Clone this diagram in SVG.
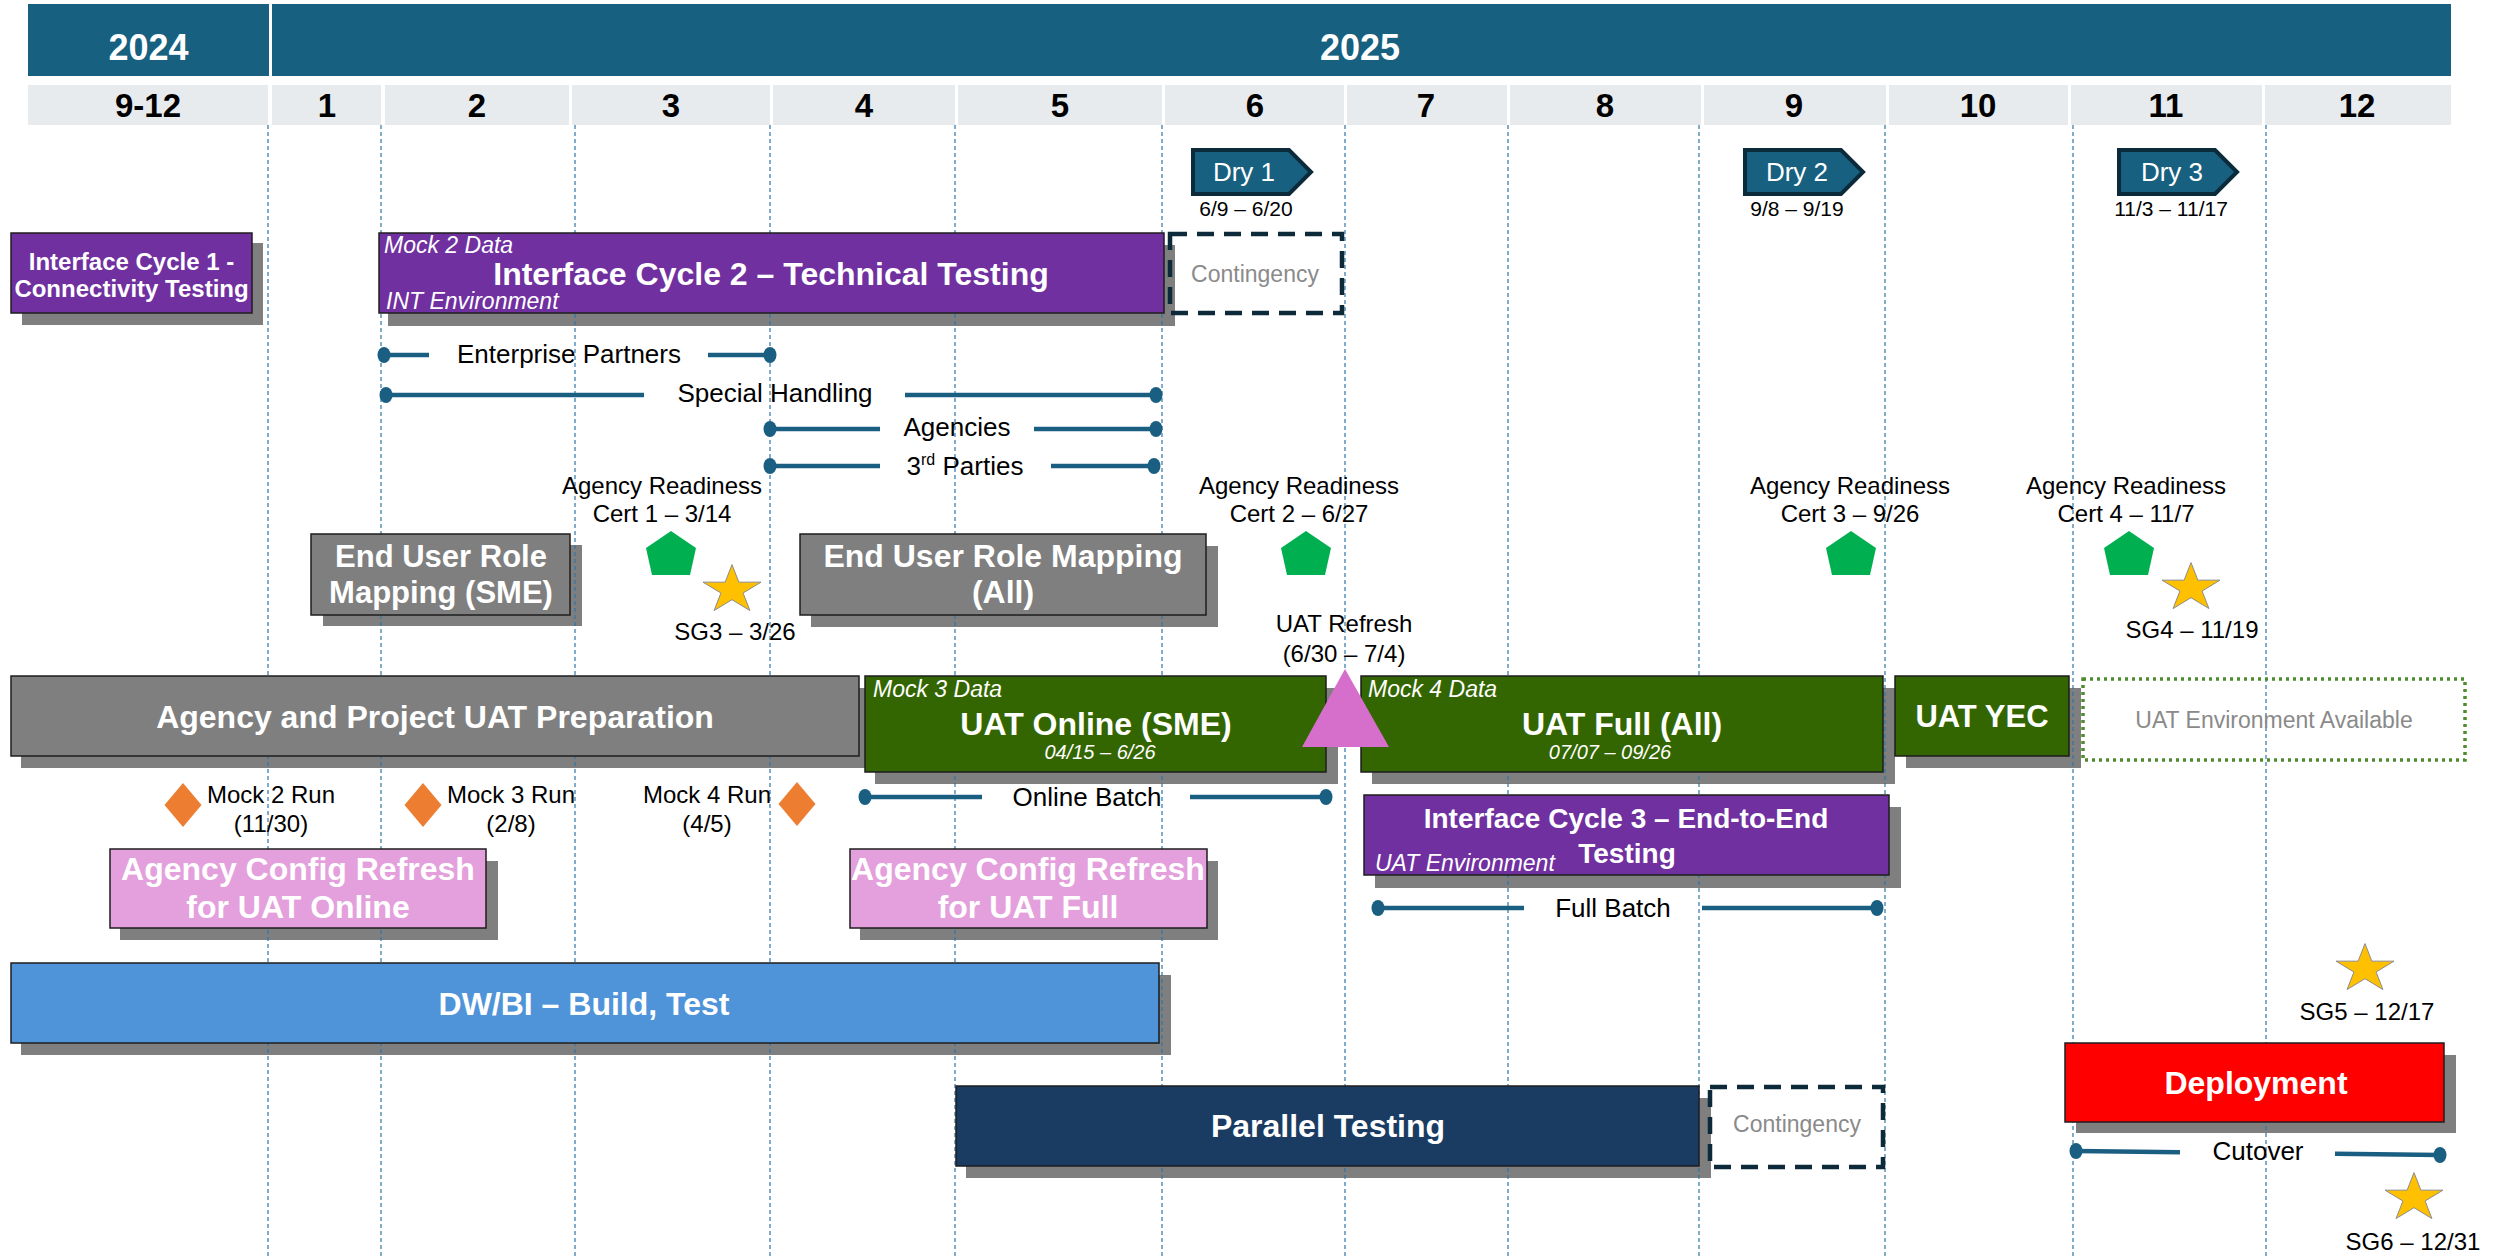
<svg xmlns="http://www.w3.org/2000/svg" width="2496" height="1256" viewBox="0 0 2496 1256">
<defs>
<style>
text{font-family:"Liberation Sans",Arial,sans-serif}
.yr{fill:#17607f}
.yt{font-size:36px;font-weight:bold;fill:#fff;text-anchor:middle}
.mo{fill:#e8ebee}
.mt{font-size:33px;font-weight:bold;fill:#000;text-anchor:middle}
.grid{stroke:#2f75a8;stroke-width:1.2;stroke-dasharray:4 3;fill:none}
.sh{fill:#7f7f7f}
.bx{stroke:#1e1e1e;stroke-width:1.5}
.purple{fill:#7030a0}
.grey{fill:#7f7f7f}
.green{fill:#336600}
.pink{fill:#e4a0dc}
.blue{fill:#4f94d9}
.navy{fill:#1a3c63}
.red{fill:#ff0000}
.bt{font-weight:bold;fill:#fff;text-anchor:middle;font-size:32px}
.bt24{font-size:24px}
.bt28{font-size:28px}
.bt31{font-size:31px}
.it{font-style:italic;fill:#fff;font-size:23px}
.itd{font-style:italic;fill:#fff;font-size:20px;text-anchor:middle}
.lbl{font-size:24px;fill:#000;text-anchor:middle}
.cl{font-size:26px;fill:#000;text-anchor:middle}
.dry{fill:#17607f;stroke:#0b2a3a;stroke-width:4}
.dt{font-size:26px;fill:#fff;text-anchor:middle}
.dd{font-size:21px;fill:#000;text-anchor:middle}
.cont{fill:none;stroke:#0c2a3a;stroke-width:4.5;stroke-dasharray:17 10}
.ct{font-size:23px;fill:#8a8a8a;text-anchor:middle}
.bar{stroke:#1a5f82;stroke-width:4.5;fill:none}
.dot{fill:#1a5f82}
.pent{fill:#00b050}
.star{fill:#ffc000;stroke:#8c8c8c;stroke-width:1}
.dia{fill:#ed7d31}
</style>
<path id="star" d="M0,-25.4 L6.85,-7.85 L29,-7.85 L11.07,3 L17.93,20.55 L0,9.7 L-17.93,20.55 L-11.07,3 L-29,-7.85 L-6.85,-7.85 Z"/>
<path id="pent" d="M0,0 L25,17 L19,44 L-19,44 L-25,17 Z"/>
<path id="dia" d="M0,-22 L18.5,0 L0,22 L-18.5,0 Z"/>
<path id="dryshape" d="M0,0 H96 L118,22 L96,44 H0 Z"/>
</defs>
<rect x="0" y="0" width="2496" height="1256" fill="#fff"/>

<g id="header">
<rect class="yr" x="28" y="4" width="241" height="72"/>
<rect class="yr" x="272" y="4" width="2179" height="72"/>
<text class="yt" x="148.5" y="60">2024</text>
<text class="yt" x="1360" y="60">2025</text>
<rect class="mo" x="28" y="85" width="240" height="40"/>
<rect class="mo" x="272" y="85" width="109" height="40"/>
<rect class="mo" x="385" y="85" width="184" height="40"/>
<rect class="mo" x="572" y="85" width="198" height="40"/>
<rect class="mo" x="773" y="85" width="182" height="40"/>
<rect class="mo" x="958" y="85" width="204" height="40"/>
<rect class="mo" x="1165" y="85" width="179" height="40"/>
<rect class="mo" x="1347" y="85" width="160" height="40"/>
<rect class="mo" x="1510" y="85" width="191" height="40"/>
<rect class="mo" x="1704" y="85" width="182" height="40"/>
<rect class="mo" x="1889" y="85" width="179" height="40"/>
<rect class="mo" x="2071" y="85" width="191" height="40"/>
<rect class="mo" x="2265" y="85" width="186" height="40"/>
<text class="mt" x="148" y="117">9-12</text>
<text class="mt" x="327" y="117">1</text>
<text class="mt" x="477" y="117">2</text>
<text class="mt" x="671" y="117">3</text>
<text class="mt" x="864" y="117">4</text>
<text class="mt" x="1060" y="117">5</text>
<text class="mt" x="1255" y="117">6</text>
<text class="mt" x="1426" y="117">7</text>
<text class="mt" x="1605" y="117">8</text>
<text class="mt" x="1794" y="117">9</text>
<text class="mt" x="1978" y="117">10</text>
<text class="mt" x="2166" y="117">11</text>
<text class="mt" x="2357" y="117">12</text>
</g>

<g id="shadows">
<rect class="sh" x="22" y="243" width="241" height="82"/>
<rect class="sh" x="388" y="245" width="787" height="81"/>
<rect class="sh" x="323" y="545" width="259" height="81"/>
<rect class="sh" x="811" y="546" width="407" height="81"/>
<rect class="sh" x="21" y="688" width="848" height="80"/>
<rect class="sh" x="875" y="688" width="463" height="96"/>
<rect class="sh" x="1372" y="688" width="523" height="96"/>
<rect class="sh" x="1906" y="688" width="175" height="80"/>
<rect class="sh" x="120" y="861" width="378" height="79"/>
<rect class="sh" x="860" y="861" width="358" height="79"/>
<rect class="sh" x="1375" y="807" width="526" height="81"/>
<rect class="sh" x="21" y="975" width="1150" height="80"/>
<rect class="sh" x="966" y="1098" width="745" height="80"/>
<rect class="sh" x="2076" y="1055" width="380" height="78"/>
</g>

<g id="grid">
<line class="grid" x1="268" y1="125" x2="268" y2="1256"/>
<line class="grid" x1="381" y1="125" x2="381" y2="1256"/>
<line class="grid" x1="575" y1="125" x2="575" y2="1256"/>
<line class="grid" x1="770" y1="125" x2="770" y2="1256"/>
<line class="grid" x1="955" y1="125" x2="955" y2="1256"/>
<line class="grid" x1="1162" y1="125" x2="1162" y2="1256"/>
<line class="grid" x1="1345" y1="125" x2="1345" y2="1256"/>
<line class="grid" x1="1508" y1="125" x2="1508" y2="1256"/>
<line class="grid" x1="1699" y1="125" x2="1699" y2="1256"/>
<line class="grid" x1="1885" y1="125" x2="1885" y2="1256"/>
<line class="grid" x1="2073" y1="125" x2="2073" y2="1256"/>
<line class="grid" x1="2266" y1="125" x2="2266" y2="1256"/>
</g>

<g id="dry1">
<use href="#dryshape" class="dry" x="1193" y="150"/>
<text class="dt" x="1244" y="181">Dry 1</text>
<text class="dd" x="1246" y="216">6/9 – 6/20</text>
</g>
<g id="dry2">
<use href="#dryshape" class="dry" x="1745" y="150"/>
<text class="dt" x="1797" y="181">Dry 2</text>
<text class="dd" x="1797" y="216">9/8 – 9/19</text>
</g>
<g id="dry3">
<use href="#dryshape" class="dry" x="2119" y="150"/>
<text class="dt" x="2172" y="181">Dry 3</text>
<text class="dd" x="2171" y="216">11/3 – 11/17</text>
</g>

<g id="ic1">
<rect class="purple bx" x="11" y="233" width="241" height="80"/>
<text class="bt bt24" x="131.5" y="270">Interface Cycle 1 -</text>
<text class="bt bt24" x="131.5" y="297">Connectivity Testing</text>
</g>

<g id="ic2">
<rect class="purple bx" x="379" y="233" width="785" height="80"/>
<text class="it" x="384" y="253">Mock 2 Data</text>
<text class="bt" x="771" y="285">Interface Cycle 2 – Technical Testing</text>
<text class="it" x="386" y="309">INT Environment</text>
</g>

<g id="contingency1">
<rect class="cont" x="1170" y="234" width="172" height="79"/>
<text class="ct" x="1255" y="282">Contingency</text>
</g>

<g id="cert1">
<text class="lbl" x="662" y="494">Agency Readiness</text>
<text class="lbl" x="662" y="522">Cert 1 – 3/14</text>
<use href="#pent" class="pent" x="671" y="531"/>
</g>
<g id="cert2">
<text class="lbl" x="1299" y="494">Agency Readiness</text>
<text class="lbl" x="1299" y="522">Cert 2 – 6/27</text>
<use href="#pent" class="pent" x="1306" y="531"/>
</g>
<g id="cert3">
<text class="lbl" x="1850" y="494">Agency Readiness</text>
<text class="lbl" x="1850" y="522">Cert 3 – 9/26</text>
<use href="#pent" class="pent" x="1851" y="531"/>
</g>
<g id="cert4">
<text class="lbl" x="2126" y="494">Agency Readiness</text>
<text class="lbl" x="2126" y="522">Cert 4 – 11/7</text>
<use href="#pent" class="pent" x="2129" y="531"/>
</g>

<g id="sg3">
<use href="#star" class="star" x="732" y="590"/>
<text class="lbl" x="735" y="640">SG3 – 3/26</text>
</g>
<g id="sg4">
<use href="#star" class="star" x="2191" y="588"/>
<text class="lbl" x="2192" y="638">SG4 – 11/19</text>
</g>
<g id="sg5">
<use href="#star" class="star" x="2365" y="969"/>
<text class="lbl" x="2367" y="1020">SG5 – 12/17</text>
</g>
<g id="sg6">
<use href="#star" class="star" x="2414" y="1198"/>
<text class="lbl" x="2413" y="1250">SG6 – 12/31</text>
</g>

<g id="eurm-sme">
<rect class="grey bx" x="311" y="534" width="259" height="81"/>
<text class="bt bt31" x="441" y="567">End User Role</text>
<text class="bt bt31" x="441" y="603">Mapping (SME)</text>
</g>
<g id="eurm-all">
<rect class="grey bx" x="800" y="534" width="406" height="81"/>
<text class="bt" x="1003" y="567">End User Role Mapping</text>
<text class="bt" x="1003" y="603">(All)</text>
</g>

<g id="uat-refresh">
<text class="lbl" x="1344" y="632">UAT Refresh</text>
<text class="lbl" x="1344" y="662">(6/30 – 7/4)</text>
</g>

<g id="uat-prep">
<rect class="grey bx" x="11" y="676" width="848" height="80"/>
<text class="bt" x="435" y="728">Agency and Project UAT Preparation</text>
</g>

<g id="uat-online">
<rect class="green bx" x="865" y="676" width="461" height="96"/>
<text class="it" x="873" y="697">Mock 3 Data</text>
<text class="bt" x="1096" y="735">UAT Online (SME)</text>
<text class="itd" x="1100" y="759">04/15 – 6/26</text>
</g>

<g id="uat-full">
<rect class="green bx" x="1361" y="676" width="522" height="96"/>
<text class="it" x="1368" y="697">Mock 4 Data</text>
<text class="bt" x="1622" y="735">UAT Full (All)</text>
<text class="itd" x="1610" y="759">07/07 – 09/26</text>
</g>

<g id="uat-refresh-marker">
<polygon points="1345,669 1389,747 1302,747" fill="#d66fcb"/>
</g>

<g id="uat-yec">
<rect class="green bx" x="1895" y="676" width="174" height="80"/>
<text class="bt bt31" x="1982" y="727">UAT YEC</text>
</g>

<g id="uat-env">
<rect x="2083" y="679" width="382" height="81" fill="none" stroke="#4e8c2f" stroke-width="3.5" stroke-dasharray="3 4"/>
<text class="ct" x="2274" y="728">UAT Environment Available</text>
</g>

<g id="mock2">
<use href="#dia" class="dia" x="183" y="805"/>
<text class="lbl" x="271" y="803">Mock 2 Run</text>
<text class="lbl" x="271" y="832">(11/30)</text>
</g>
<g id="mock3">
<use href="#dia" class="dia" x="423" y="805"/>
<text class="lbl" x="511" y="803">Mock 3 Run</text>
<text class="lbl" x="511" y="832">(2/8)</text>
</g>
<g id="mock4">
<use href="#dia" class="dia" x="797" y="804"/>
<text class="lbl" x="707" y="803">Mock 4 Run</text>
<text class="lbl" x="707" y="832">(4/5)</text>
</g>

<g id="acr-online">
<rect class="pink bx" x="110" y="849" width="376" height="79"/>
<text class="bt" x="298" y="880">Agency Config Refresh</text>
<text class="bt" x="298" y="918">for UAT Online</text>
</g>
<g id="acr-full">
<rect class="pink bx" x="850" y="849" width="357" height="79"/>
<text class="bt" x="1028" y="880">Agency Config Refresh</text>
<text class="bt" x="1028" y="918">for UAT Full</text>
</g>

<g id="ic3">
<rect class="purple bx" x="1364" y="795" width="525" height="80"/>
<text class="bt bt28" x="1626" y="828">Interface Cycle 3 – End-to-End</text>
<text class="bt bt28" x="1627" y="863">Testing</text>
<text class="it" x="1375" y="871">UAT Environment</text>
</g>

<g id="dwbi">
<rect class="blue bx" x="11" y="963" width="1148" height="80"/>
<text class="bt" x="584" y="1015">DW/BI – Build, Test</text>
</g>

<g id="parallel">
<rect class="navy bx" x="956" y="1086" width="743" height="80"/>
<text class="bt" x="1328" y="1137">Parallel Testing</text>
</g>

<g id="contingency2">
<rect class="cont" x="1710" y="1087" width="173" height="80"/>
<text class="ct" x="1797" y="1132">Contingency</text>
</g>

<g id="deployment">
<rect class="red bx" x="2065" y="1043" width="379" height="79"/>
<text class="bt" x="2256" y="1094">Deployment</text>
</g>

<g id="connectors">
<line class="bar" x1="384" y1="355" x2="429" y2="355"/>
<line class="bar" x1="708" y1="355" x2="770" y2="355"/>
<ellipse class="dot" cx="384" cy="355" rx="6.5" ry="8"/>
<ellipse class="dot" cx="770" cy="355" rx="6.5" ry="8"/>
<text class="cl" x="569" y="363">Enterprise  Partners</text>

<line class="bar" x1="386" y1="395" x2="644" y2="395"/>
<line class="bar" x1="905" y1="395" x2="1156" y2="395"/>
<ellipse class="dot" cx="386" cy="395" rx="6.5" ry="8"/>
<ellipse class="dot" cx="1156" cy="395" rx="6.5" ry="8"/>
<text class="cl" x="775" y="402">Special Handling</text>

<line class="bar" x1="770" y1="429" x2="880" y2="429"/>
<line class="bar" x1="1034" y1="429" x2="1156" y2="429"/>
<ellipse class="dot" cx="770" cy="429" rx="6.5" ry="8"/>
<ellipse class="dot" cx="1156" cy="429" rx="6.5" ry="8"/>
<text class="cl" x="957" y="436">Agencies</text>

<line class="bar" x1="770" y1="466" x2="880" y2="466"/>
<line class="bar" x1="1051" y1="466" x2="1154" y2="466"/>
<ellipse class="dot" cx="770" cy="466" rx="6.5" ry="8"/>
<ellipse class="dot" cx="1154" cy="466" rx="6.5" ry="8"/>
<text class="cl" x="965" y="475">3<tspan font-size="16" dy="-10">rd</tspan><tspan dy="10"> Parties</tspan></text>

<line class="bar" x1="865" y1="797" x2="982" y2="797"/>
<line class="bar" x1="1190" y1="797" x2="1326" y2="797"/>
<ellipse class="dot" cx="865" cy="797" rx="6.5" ry="8"/>
<ellipse class="dot" cx="1326" cy="797" rx="6.5" ry="8"/>
<text class="cl" x="1087" y="806">Online Batch</text>

<line class="bar" x1="1378" y1="908" x2="1524" y2="908"/>
<line class="bar" x1="1702" y1="908" x2="1877" y2="908"/>
<ellipse class="dot" cx="1378" cy="908" rx="6.5" ry="8"/>
<ellipse class="dot" cx="1877" cy="908" rx="6.5" ry="8"/>
<text class="cl" x="1613" y="917">Full Batch</text>

<line class="bar" x1="2076" y1="1151" x2="2180" y2="1152.2"/>
<line class="bar" x1="2335" y1="1153.8" x2="2440" y2="1155"/>
<ellipse class="dot" cx="2076" cy="1151" rx="6.5" ry="8"/>
<ellipse class="dot" cx="2440" cy="1155" rx="6.5" ry="8"/>
<text class="cl" x="2258" y="1160">Cutover</text>
</g>
</svg>
